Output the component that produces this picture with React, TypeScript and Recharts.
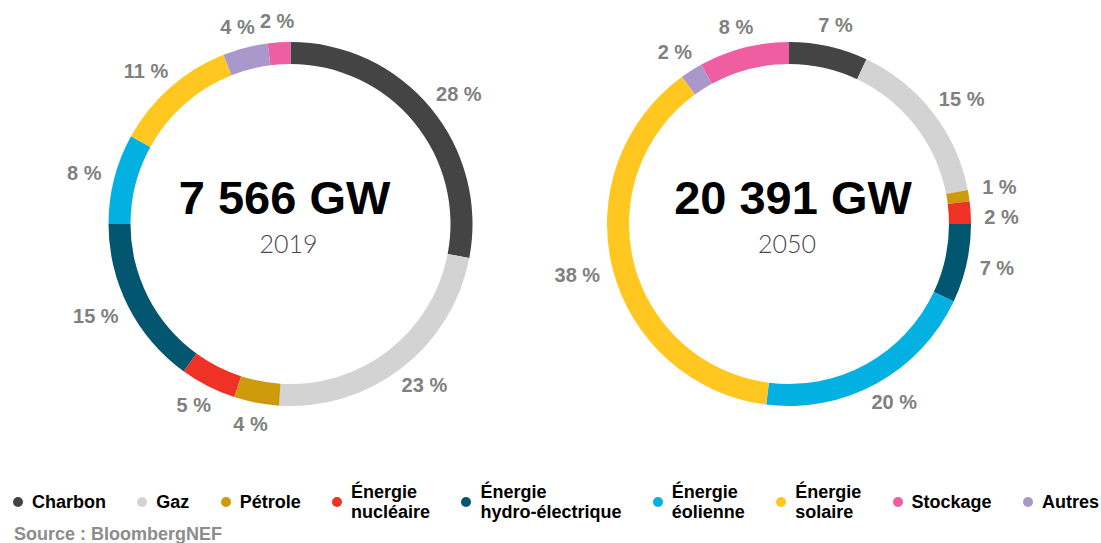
import React from "react";
import { PieChart, Pie, Cell } from "recharts";

// categories in legend order
const CATEGORIES = [
  "Charbon", "Gaz", "Pétrole", "Énergie nucléaire", "Énergie hydro-électrique",
  "Énergie éolienne", "Énergie solaire", "Stockage", "Autres",
];
const LEGEND_LINES = [
  ["Charbon"], ["Gaz"], ["Pétrole"], ["Énergie", "nucléaire"], ["Énergie", "hydro-électrique"],
  ["Énergie", "éolienne"], ["Énergie", "solaire"], ["Stockage"], ["Autres"],
];
const COLORS = [
  "#444444", "#d3d3d3", "#cc9a0a", "#ee3326", "#03566f",
  "#03b0e2", "#ffc71f", "#ee5ea1", "#ab98cb",
];

// shares in % (legend order)
const SHARE_2019 = [28, 23, 4, 5, 15, 8, 11, 2, 4];
const SHARE_2050 = [7, 15, 1, 2, 7, 20, 38, 8, 2];

// clockwise order around the ring, starting at 12 o'clock
const RING_ORDER = [0, 1, 2, 3, 4, 5, 6, 8, 7];

const TOTALS = [
  { total: "7 566 GW", year: "2019", shares: SHARE_2019 },
  { total: "20 391 GW", year: "2050", shares: SHARE_2050 },
];

const CX = [290.5, 789];
const TITLE_DX = [-6, 4];
const CY = 224;
const OUTER = 182;
const INNER = 160;
const FONT = "'Liberation Sans', Arial, sans-serif";

const ringData = (shares: number[]) =>
  RING_ORDER.map(i => ({ name: CATEGORIES[i], value: shares[i], color: COLORS[i] }));

// place the % labels just outside the ring (outside-end style), then push apart
// labels whose boxes would collide
const labelSpots = (shares: number[], cx: number) => {
  const vals = RING_ORDER.map(i => shares[i]);
  const sum = vals.reduce((a, b) => a + b, 0);
  let acc = 0;
  const spots = vals.map(v => {
    const mid = 90 - ((acc + v / 2) / sum) * 360;
    acc += v;
    const rad = (-mid * Math.PI) / 180;
    const dx = Math.cos(rad);
    const dy = Math.sin(rad);
    const w = String(v).length * 11 + 23;
    const r = OUTER + 14;
    return { x: cx + r * dx + (dx * w) / 2, y: CY + r * dy + (dy * 15) / 2, w };
  });
  const minGap = 30;
  for (let pass = 0; pass < 20; pass++) {
    for (let a = 0; a < spots.length; a++) {
      for (let b = a + 1; b < spots.length; b++) {
        const p = spots[a], q = spots[b];
        const gap = Math.abs(p.y - q.y);
        if (Math.abs(p.x - q.x) < (p.w + q.w) / 2 + 4 && gap < minGap) {
          const push = (minGap - gap) / 2;
          if (p.y <= q.y) { p.y -= push; q.y += push; } else { p.y += push; q.y -= push; }
        }
      }
    }
  }
  return spots;
};

const pctLabel = (shares: number[], cx: number) => {
  const spots = labelSpots(shares, cx);
  // eslint-disable-next-line @typescript-eslint/no-explicit-any
  return (props: any) => {
    const value = props.value ?? props.payload?.value;
    const s = spots[props.index];
    return (
      <text x={s.x} y={s.y} textAnchor="middle" dominantBaseline="central"
        fill="#808080" fontSize={20} fontWeight={700} fontFamily={FONT}>
        {`${value} %`}
      </text>
    );
  };
};

export default function App() {
  return (
    <div style={{
      position: "absolute", left: 0, top: 0, width: 1101, height: 543,
      background: "#fff", fontFamily: FONT, overflow: "hidden",
    }}>
      <PieChart width={1101} height={470} margin={{ top: 0, right: 0, bottom: 0, left: 0 }}>
        {TOTALS.map((t, k) => (
          <Pie
            key={t.year}
            data={ringData(t.shares)}
            dataKey="value"
            cx={CX[k]}
            cy={CY}
            innerRadius={INNER}
            outerRadius={OUTER}
            startAngle={90}
            endAngle={-270}
            stroke="none"
            label={pctLabel(t.shares, CX[k])}
            labelLine={false}
            isAnimationActive={false}
          >
            {ringData(t.shares).map(d => (
              <Cell key={d.name} fill={d.color} />
            ))}
          </Pie>
        ))}
      </PieChart>

      {/* totals in the middle of each ring */}
      <svg width={1101} height={470} style={{ position: "absolute", left: 0, top: 0, pointerEvents: "none" }}>
        {TOTALS.map((t, k) => (
          <g key={t.year}>
            <text x={CX[k] + TITLE_DX[k]} y={CY - 10} textAnchor="middle" fill="#000"
              fontSize={47} fontWeight={700} fontFamily={FONT}>
              {t.total}
            </text>
            <text x={CX[k] - 2} y={CY + 29} textAnchor="middle" fill="#45474f"
              fontSize={25} fontWeight={300} fontFamily="Lato, 'Open Sans', sans-serif">
              {t.year}
            </text>
          </g>
        ))}
      </svg>

      {/* Legend */}
      <div style={{
        position: "absolute", left: 13, width: 1086, top: 481, height: 42,
        display: "flex", justifyContent: "space-between", alignItems: "center",
      }}>
        {CATEGORIES.map((c, i) => (
          <div key={c} style={{ display: "flex", alignItems: "center", gap: 9 }}>
            <div style={{ width: 10, height: 10, borderRadius: "50%", background: COLORS[i], flexShrink: 0 }} />
            <div style={{ fontSize: 18, fontWeight: 700, color: "#000", lineHeight: "20.5px", whiteSpace: "nowrap" }}>
              {LEGEND_LINES[i].map(l => <div key={l}>{l}</div>)}
            </div>
          </div>
        ))}
      </div>

      <div style={{
        position: "absolute", left: 14, top: 524, fontSize: 18, fontWeight: 700,
        color: "#8c8c8c", lineHeight: "20px", whiteSpace: "nowrap",
      }}>
        Source : BloombergNEF
      </div>
    </div>
  );
}
